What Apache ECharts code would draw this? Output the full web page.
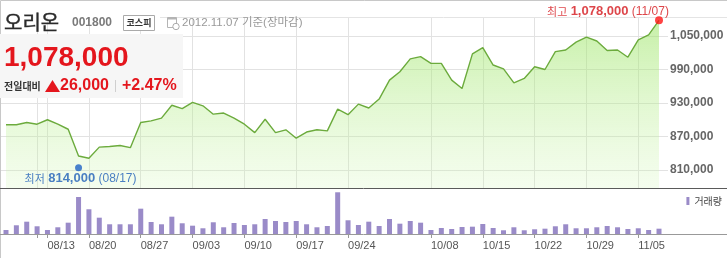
<!DOCTYPE html>
<html><head><meta charset="utf-8">
<script src="https://cdn.jsdelivr.net/npm/echarts@6/dist/echarts.min.js"></script>
<style>html,body{margin:0;padding:0;background:#fff}#c{width:727px;height:258px}</style>
</head><body><div id="c"></div>
<script>
const dates = ['08/07','08/08','08/09','08/10','08/13','08/14','08/16','08/17','08/20','08/21','08/22','08/23','08/24','08/27','08/28','08/29','08/30','08/31','09/03','09/04','09/05','09/06','09/07','09/10','09/11','09/12','09/13','09/14','09/17','09/18','09/19','09/20','09/21','09/24','09/25','09/26','09/27','09/28','10/02','10/04','10/05','10/08','10/09','10/10','10/11','10/12','10/15','10/16','10/17','10/18','10/19','10/22','10/23','10/24','10/25','10/26','10/29','10/30','10/31','11/01','11/02','11/05','11/06','11/07'];
const closePrices = [
 891000, 891000, 895000, 892000, 900000, 892000, 883000, 835000, 831000, 851000,
 852000, 854000, 850000, 895000, 898000, 903000, 926000, 920000, 931000, 925000,
 910000, 912000, 903000, 892000, 877000, 901000, 877000, 882000, 867000, 878000,
 882000, 880000, 919000, 909000, 928000, 921000, 937000, 971000, 986000, 1009000,
 1013000, 1001000, 1001000, 971000, 956000, 1018000, 1029000, 998000, 991000, 966000,
 974000, 995000, 990000, 1022000, 1025000, 1039000, 1048000, 1041000, 1024000, 1025000,
 1012000, 1043000, 1052000, 1078000];
const volumes = [
 10000, 21800, 30800, 19300, 10000, 16800, 28300, 92500, 61800, 40800,
 24300, 24300, 24300, 63300, 30000, 24300, 43300, 26800, 20800, 14300,
 29300, 16800, 27500, 22500, 24300, 37500, 32500, 30000, 32500, 24300,
 16800, 20000, 104300, 34300, 22500, 30800, 20000, 37500, 25800, 32500,
 28300, 10000, 15000, 12500, 17500, 18300, 25000, 15000, 9300, 16800,
 9300, 11800, 13300, 19300, 24300, 14300, 14300, 16800, 20000, 16800,
 12500, 14300, 10000, 13300];
const gridDates = ['08/10','08/13','08/20','08/27','09/03','09/10','09/17','09/24','10/08','10/15','10/22','10/29','11/05'];
const labelDates = ['08/13','08/20','08/27','09/03','09/10','09/17','09/24','10/08','10/15','10/22','10/29','11/05'];
const priceTickMin = 810000, priceTickMax = 1050000, priceTickStep = 60000;
const lowPoint = ['08/17', 814000];
const highPoint = ['11/07', 1078000];
const stockName = '오리온', stockCode = '001800', market = '코스피', asOf = '2012.11.07 기준(장마감)';
const lastPrice = 1078000, change = 26000, changePct = 2.47;
const volumeName = '거래량';

const fmt = n => n.toLocaleString('en-US');
const LAT = "'Liberation Sans', 'Noto Sans CJK KR', sans-serif";
const KR = "'Noto Sans CJK KR', sans-serif";
const gridSet = new Set(gridDates), labelSet = new Set(labelDates);
const chart = echarts.init(document.getElementById('c'), null, {renderer: 'canvas'});

const richBase = (color) => ({
  k: {fontFamily: KR, fontSize: 11, color: color},
  b: {fontFamily: LAT, fontSize: 13, fontWeight: 'bold', color: color},
  n: {fontFamily: LAT, fontSize: 12, color: color}
});

const option = {
  animation: false,
  grid: [
    {left: 6, right: 68, top: 17, bottom: 70},
    {left: 0, right: 59, top: 36, bottom: 88},
    {left: 6, right: 68, top: 190, bottom: 24}
  ],
  xAxis: [
    {gridIndex: 0, type: 'category', data: dates, boundaryGap: false,
     axisLine: {show: false}, axisTick: {show: false}, axisLabel: {show: false},
     splitLine: {show: true, interval: (i, v) => gridSet.has(v), lineStyle: {color: '#e2e2e2', width: 1}}},
    {gridIndex: 1, type: 'value', show: false, min: 0, max: 1},
    {gridIndex: 2, type: 'category', data: dates, boundaryGap: false,
     axisLine: {show: false},
     axisTick: {show: true, interval: (i, v) => gridSet.has(v), length: 4, lineStyle: {color: '#999'}},
     axisLabel: {interval: (i, v) => labelSet.has(v), align: 'left', margin: 6, fontSize: 11, color: '#555', fontFamily: LAT},
     splitLine: {show: false}}
  ],
  yAxis: [
    {gridIndex: 0, type: 'value', min: 777800, max: 1084000, show: false},
    {gridIndex: 1, type: 'value', position: 'right', min: priceTickMin, max: priceTickMax, interval: priceTickStep,
     axisLine: {show: false}, axisTick: {show: false},
     axisLabel: {margin: 2, fontSize: 12, fontWeight: 'bold', color: '#666', fontFamily: LAT, formatter: v => fmt(v)},
     splitLine: {show: true, lineStyle: {color: '#e2e2e2'}}},
    {gridIndex: 2, type: 'value', min: 0, max: 110000, show: false}
  ],
  legend: {
    data: [volumeName], right: 0, top: 191, icon: 'rect', itemWidth: 3, itemHeight: 8,
    selectedMode: false, textStyle: {fontSize: 10, color: '#444', fontFamily: KR}
  },
  series: [
    {type: 'line', xAxisIndex: 0, yAxisIndex: 0, data: closePrices, symbol: 'none', showSymbol: false, silent: true, z: 2,
     lineStyle: {color: '#6cab3d', width: 1.4},
     areaStyle: {origin: 'start', color: {type: 'linear', x: 0, y: 0, x2: 0, y2: 1,
       colorStops: [{offset: 0, color: 'rgba(155,228,100,0.8)'}, {offset: 1, color: 'rgba(205,245,175,0.3)'}]}}},
    {type: 'scatter', xAxisIndex: 0, yAxisIndex: 0, data: [lowPoint], symbolSize: 7, z: 5, silent: true,
     itemStyle: {color: '#1f63c6'},
     label: {show: true, position: 'bottom', distance: 1, offset: [2, 0],
       formatter: p => '{k|최저} {b|' + fmt(p.value[1]) + '} {n|(' + p.value[0] + ')}', rich: richBase('#1f5fb8')}},
    {type: 'scatter', xAxisIndex: 0, yAxisIndex: 0, data: [highPoint], symbolSize: 8, z: 5, silent: true,
     itemStyle: {color: '#ff1414'},
     label: {show: true, position: 'top', distance: 0, offset: [-51, 2],
       formatter: p => '{k|최고} {b|' + fmt(p.value[1]) + '} {n|(' + p.value[0] + ')}', rich: richBase('#d4161c')}},
    {name: volumeName, type: 'bar', xAxisIndex: 2, yAxisIndex: 2, data: volumes, barWidth: 5,
     itemStyle: {color: '#9a8bc8'}, silent: true}
  ],
  graphic: [
    {type: 'rect', z: 1, silent: true, shape: {x: 0.5, y: 0.5, width: 760, height: 300}, style: {fill: null, stroke: '#c8c8c8', lineWidth: 1}},
    {type: 'line', z: 1, silent: true, shape: {x1: 160, y1: 17.5, x2: 727, y2: 17.5}, style: {stroke: '#e4e4e4', lineWidth: 1}},
    {type: 'line', z: 10, silent: true, shape: {x1: 0, y1: 188.5, x2: 727, y2: 188.5}, style: {stroke: '#5a5a5a', lineWidth: 1}},
    {type: 'line', z: 10, silent: true, shape: {x1: 0, y1: 234.5, x2: 727, y2: 234.5}, style: {stroke: '#999', lineWidth: 1}},
    {type: 'rect', z: 50, silent: true, shape: {x: 0, y: 34, width: 183, height: 64}, style: {fill: '#f6f6f6'}},
    {type: 'text', z: 60, silent: true, style: {text: stockName, x: 4, y: 22, font: 'normal 20px ' + KR, fill: '#2a2a2a', stroke: '#2a2a2a', lineWidth: 0.4, textAlign: 'left', textVerticalAlign: 'middle'}},
    {type: 'text', z: 60, silent: true, style: {text: stockCode, x: 72, y: 23, font: 'bold 12px ' + LAT, fill: '#7a7a7a', textAlign: 'left', textVerticalAlign: 'middle'}},
    {type: 'rect', z: 60, silent: true, shape: {x: 123.5, y: 15.5, width: 31, height: 15}, style: {fill: '#fff', stroke: '#aaa', lineWidth: 1}},
    {type: 'text', z: 61, silent: true, style: {text: market, x: 139, y: 23, font: 'bold 9px ' + KR, fill: '#333', textAlign: 'center', textVerticalAlign: 'middle'}},
    {type: 'rect', z: 60, silent: true, shape: {x: 167.5, y: 17.5, width: 9, height: 10}, style: {fill: '#fff', stroke: '#b4b4b4', lineWidth: 1}},
    {type: 'rect', z: 60, silent: true, shape: {x: 167.5, y: 17.5, width: 9, height: 2}, style: {fill: '#b4b4b4'}},
    {type: 'circle', z: 61, silent: true, shape: {cx: 176, cy: 26.5, r: 3.2}, style: {fill: '#fff', stroke: '#aaa', lineWidth: 1}},
    {type: 'text', z: 60, silent: true, style: {text: asOf, x: 182, y: 23, font: 'normal 11.5px ' + LAT, fill: '#999', textAlign: 'left', textVerticalAlign: 'middle'}},
    {type: 'text', z: 60, silent: true, style: {text: fmt(lastPrice), x: 4, y: 58, font: 'bold 28px ' + LAT, fill: '#e4161d', textAlign: 'left', textVerticalAlign: 'middle'}},
    {type: 'text', z: 60, silent: true, style: {text: '전일대비', x: 4, y: 86, font: 'bold 10px ' + KR, fill: '#333', textAlign: 'left', textVerticalAlign: 'middle'}},
    {type: 'polygon', z: 60, silent: true, shape: {points: [[45, 92], [52.5, 80], [60, 92]]}, style: {fill: '#e4161d'}},
    {type: 'text', z: 60, silent: true, style: {text: fmt(change), x: 60, y: 86, font: 'bold 16px ' + LAT, fill: '#e4161d', textAlign: 'left', textVerticalAlign: 'middle'}},
    {type: 'line', z: 60, silent: true, shape: {x1: 115.5, y1: 80, x2: 115.5, y2: 92}, style: {stroke: '#cfcfcf', lineWidth: 1}},
    {type: 'text', z: 60, silent: true, style: {text: '+' + changePct.toFixed(2) + '%', x: 122, y: 86, font: 'bold 16px ' + LAT, fill: '#e4161d', textAlign: 'left', textVerticalAlign: 'middle'}}
  ]
};
chart.setOption(option);
</script>
</body></html>
